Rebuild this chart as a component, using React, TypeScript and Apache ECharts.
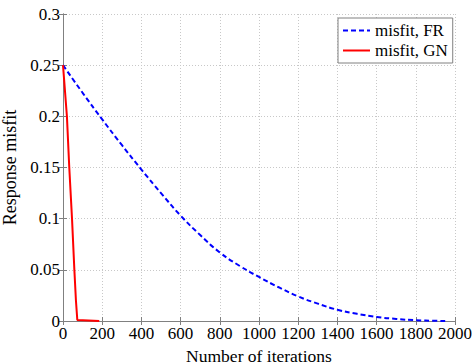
import React, { useEffect, useRef } from "react";
import * as echarts from "echarts";

const xTicks = [0, 200, 400, 600, 800, 1000, 1200, 1400, 1600, 1800, 2000];
const yTicks = [0, 0.05, 0.1, 0.15, 0.2, 0.25, 0.3];

const frIter = [0, 100, 200, 300, 400, 500, 600, 700, 800, 900, 1000, 1100, 1200, 1300, 1400, 1500, 1600, 1700, 1800, 1900, 1950];
const frMisfit = [0.25, 0.223, 0.197, 0.172, 0.148, 0.125, 0.103, 0.084, 0.067, 0.054, 0.043, 0.033, 0.024, 0.017, 0.011, 0.007, 0.004, 0.002, 0.0008, 0.0002, 0];

const gnIter = [0, 20, 32, 46, 58, 66, 73, 185];
const gnMisfit = [0.25, 0.2, 0.15, 0.1, 0.05, 0.02, 0.001, 0];

const FONT = "Liberation Serif";

export default function App() {
  const ref = useRef<HTMLDivElement>(null);
  useEffect(() => {
    if (!ref.current) return;
    const chart = echarts.init(ref.current, null, { renderer: "svg" });
    const axisLine = { show: true, lineStyle: { color: "#808080", width: 1 } };
    const gridLine = { show: true, lineStyle: { color: "#c8c8c8", type: [1, 2] as any, width: 1 } };
    const tick = { show: true, inside: true, length: 4, lineStyle: { color: "#808080" } };
    chart.setOption({
      animation: false,
      backgroundColor: "#ffffff",
      grid: { left: 63, right: 17, top: 14, bottom: 42, containLabel: false, outerBoundsMode: "none" },
      legend: {
        left: 338,
        top: 18,
        orient: "vertical",
        itemWidth: 27,
        itemHeight: 10,
        itemGap: 3,
        padding: [4, 5, 4, 4],
        borderColor: "#808080",
        borderWidth: 1,
        borderRadius: 0,
        backgroundColor: "#ffffff",
        itemStyle: { opacity: 0 },
        textStyle: { fontFamily: FONT, fontSize: 17, color: "#000" },
        data: ["misfit, FR", "misfit, GN"],
      },
      xAxis: [
        {
          type: "value",
          min: 0,
          max: 2000,
          interval: 200,
          name: "Number of iterations",
          nameLocation: "middle",
          nameGap: 15,
          nameTextStyle: { fontFamily: FONT, fontSize: 17.5, lineHeight: 17, color: "#000" },
          axisLine,
          axisTick: tick,
          axisLabel: { fontFamily: FONT, fontSize: 17, color: "#000", margin: 4, formatter: (v: number) => String(v) },
          splitLine: gridLine,
        },
        {
          type: "value",
          position: "top",
          min: 0,
          max: 2000,
          interval: 200,
          axisLine,
          axisTick: tick,
          axisLabel: { show: false },
          splitLine: { show: false },
        },
      ],
      yAxis: [
        {
          type: "value",
          min: 0,
          max: 0.3,
          interval: 0.05,
          name: "Response misfit",
          nameLocation: "middle",
          nameGap: 38,
          nameTextStyle: { fontFamily: FONT, fontSize: 18, color: "#000" },
          axisLine,
          axisTick: tick,
          axisLabel: {
            fontFamily: FONT,
            fontSize: 17,
            color: "#000",
            margin: 3,
            formatter: (v: number) => String(parseFloat(v.toFixed(2))),
          },
          splitLine: gridLine,
        },
        {
          type: "value",
          position: "right",
          min: 0,
          max: 0.3,
          interval: 0.05,
          axisLine,
          axisTick: tick,
          axisLabel: { show: false },
          splitLine: { show: false },
        },
      ],
      series: [
        {
          name: "misfit, FR",
          type: "line",
          symbol: "none",
          smooth: true,
          data: frIter.map((x, i) => [x, frMisfit[i]]),
          lineStyle: { color: "#0000ff", width: 2, type: [5, 3] },
          itemStyle: { color: "#0000ff" },
        },
        {
          name: "misfit, GN",
          type: "line",
          symbol: "none",
          data: gnIter.map((x, i) => [x, gnMisfit[i]]),
          lineStyle: { color: "#ff0000", width: 2 },
          itemStyle: { color: "#ff0000" },
        },
      ],
    });
    return () => chart.dispose();
  }, []);
  return <div ref={ref} style={{ width: 472, height: 363, position: "absolute", left: 0, top: 0 }} />;
}
